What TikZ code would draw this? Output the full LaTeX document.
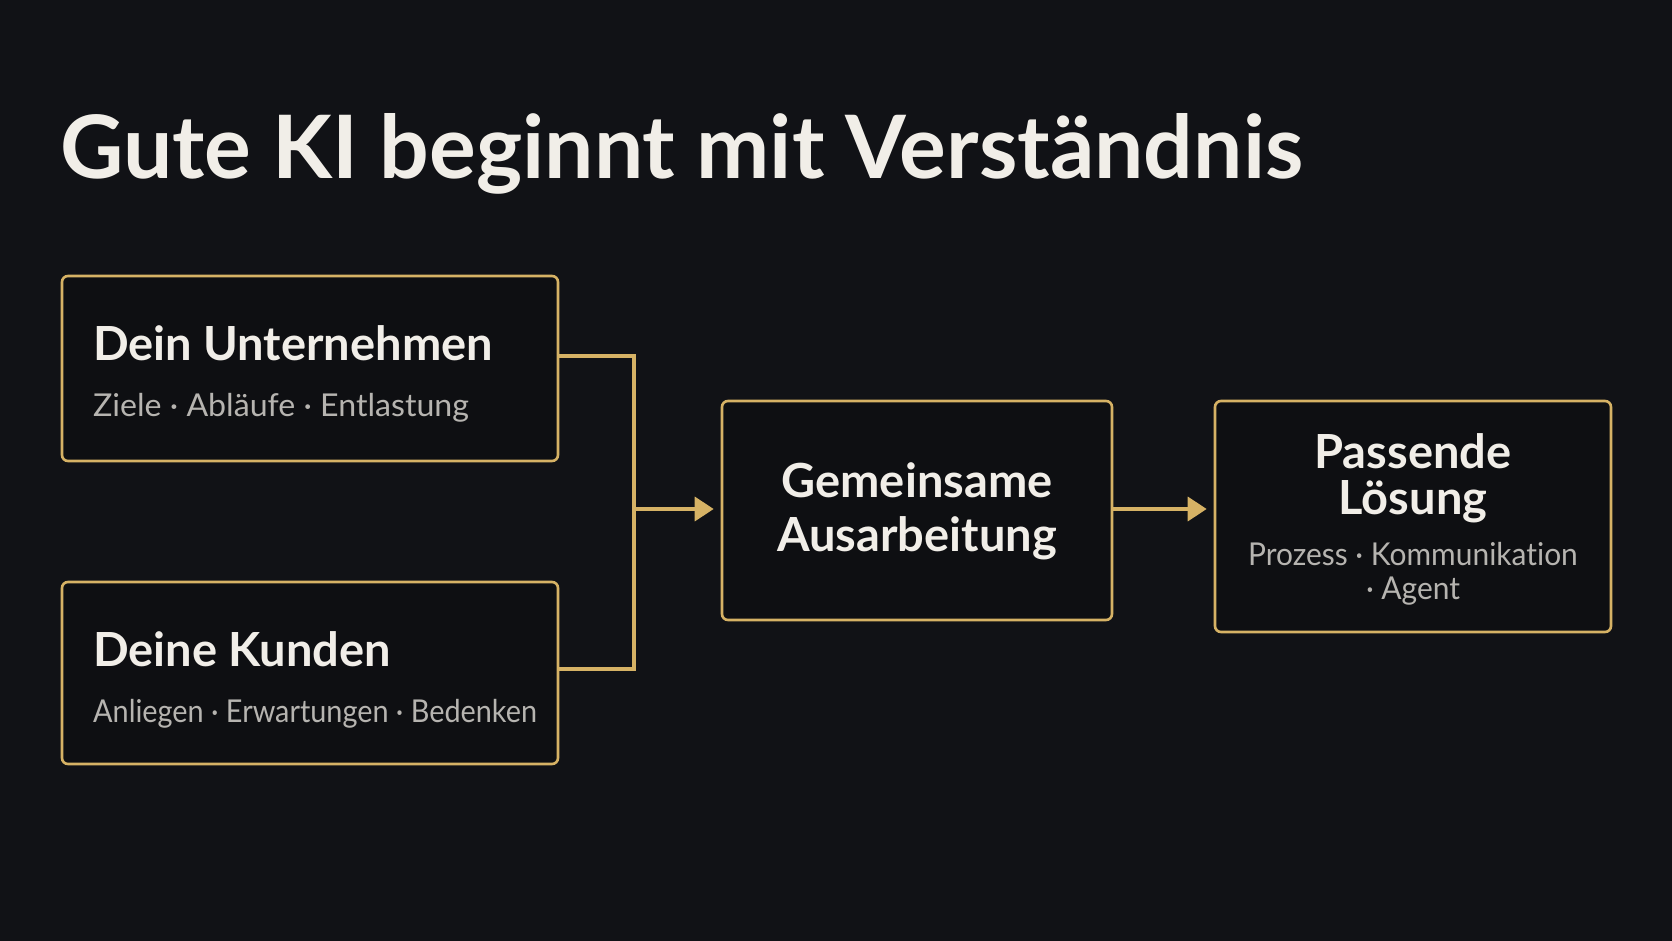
\documentclass[tikz,border=0pt]{standalone}
\usepackage{fontspec}
\usepackage{graphicx}
\setmainfont{Lato}[Ligatures=CommonOff]
\usetikzlibrary{arrows.meta}
\definecolor{bg}{HTML}{111216}
\definecolor{boxbg}{HTML}{0E0F12}
\definecolor{gold}{HTML}{D6B265}
\definecolor{ink}{HTML}{F1EEE8}
\definecolor{muted}{HTML}{B6B4B0}
\tikzset{
  card/.style={draw=gold, line width=2.6pt, fill=boxbg, rounded corners=6pt, inner sep=0pt},
  titletext/.style={inner sep=0pt, text=ink, font=\bfseries\fontsize{87.5}{90}\selectfont},
  headtext/.style={inner sep=0pt, text=ink, font=\bfseries\fontsize{47}{54}\selectfont},
  subtext/.style={inner sep=0pt, text=muted, font=\fontsize{31.5}{36}\selectfont},
  link/.style={draw=gold, line width=3.5pt},
  tip/.style={-{Triangle[length=19pt,width=24pt]}}
}
\begin{document}
\begin{tikzpicture}[x=1pt,y=-1pt]
\path[fill=bg] (0,0) rectangle (1672,941);
\useasboundingbox (0,0) rectangle (1672,941);

\node[titletext, anchor=base west] (title) at (60,179) {Gute KI beginnt mit Verständnis};

\node[card, minimum width=496pt, minimum height=185pt] (b1) at (310,368.5) {};
\node[card, minimum width=496pt, minimum height=182pt] (b2) at (310,673) {};
\node[card, minimum width=390pt, minimum height=219pt] (b3) at (917,510.5) {};
\node[card, minimum width=396pt, minimum height=231pt] (b4) at (1413,516.5) {};

\node[headtext, anchor=base west] (h1) at (93,360) {Dein Unternehmen};
\node[subtext, anchor=base west] (s1) at (93,416) {\scalebox{1.02}[1]{Ziele · Abläufe · Entlastung}};
\node[headtext, anchor=base west] (h2) at (93,666) {Deine Kunden};
\node[subtext, anchor=base west] (s2) at (93,722) {\scalebox{0.915}[1]{Anliegen · Erwartungen · Bedenken}};

\node[headtext, anchor=base] (h3a) at (917,497) {Gemeinsame};
\node[headtext, anchor=base] (h3b) at (917,551) {Ausarbeitung};

\node[headtext, anchor=base] (h4a) at (1413,468) {Passende};
\node[headtext, anchor=base] (h4b) at (1413,514) {Lösung};
\node[subtext, anchor=base] (s4a) at (1413,565) {\scalebox{0.95}[1]{Prozess · Kommunikation}};
\node[subtext, anchor=base] (s4b) at (1413,599) {\scalebox{0.95}[1]{· Agent}};

\coordinate (j) at (634,509);
\draw[link, line join=miter] ([yshift=12.5pt]b1.east) -| (j);
\draw[link, line join=miter] ([yshift=4pt]b2.east) -| (j);
\draw[link, tip, shorten >=7pt] (j) -- (j -| b3.west);
\draw[link, tip, shorten >=7pt] ([yshift=1.5pt]b3.east) -- ([yshift=1.5pt]b3.east -| b4.west);
\end{tikzpicture}
\end{document}
